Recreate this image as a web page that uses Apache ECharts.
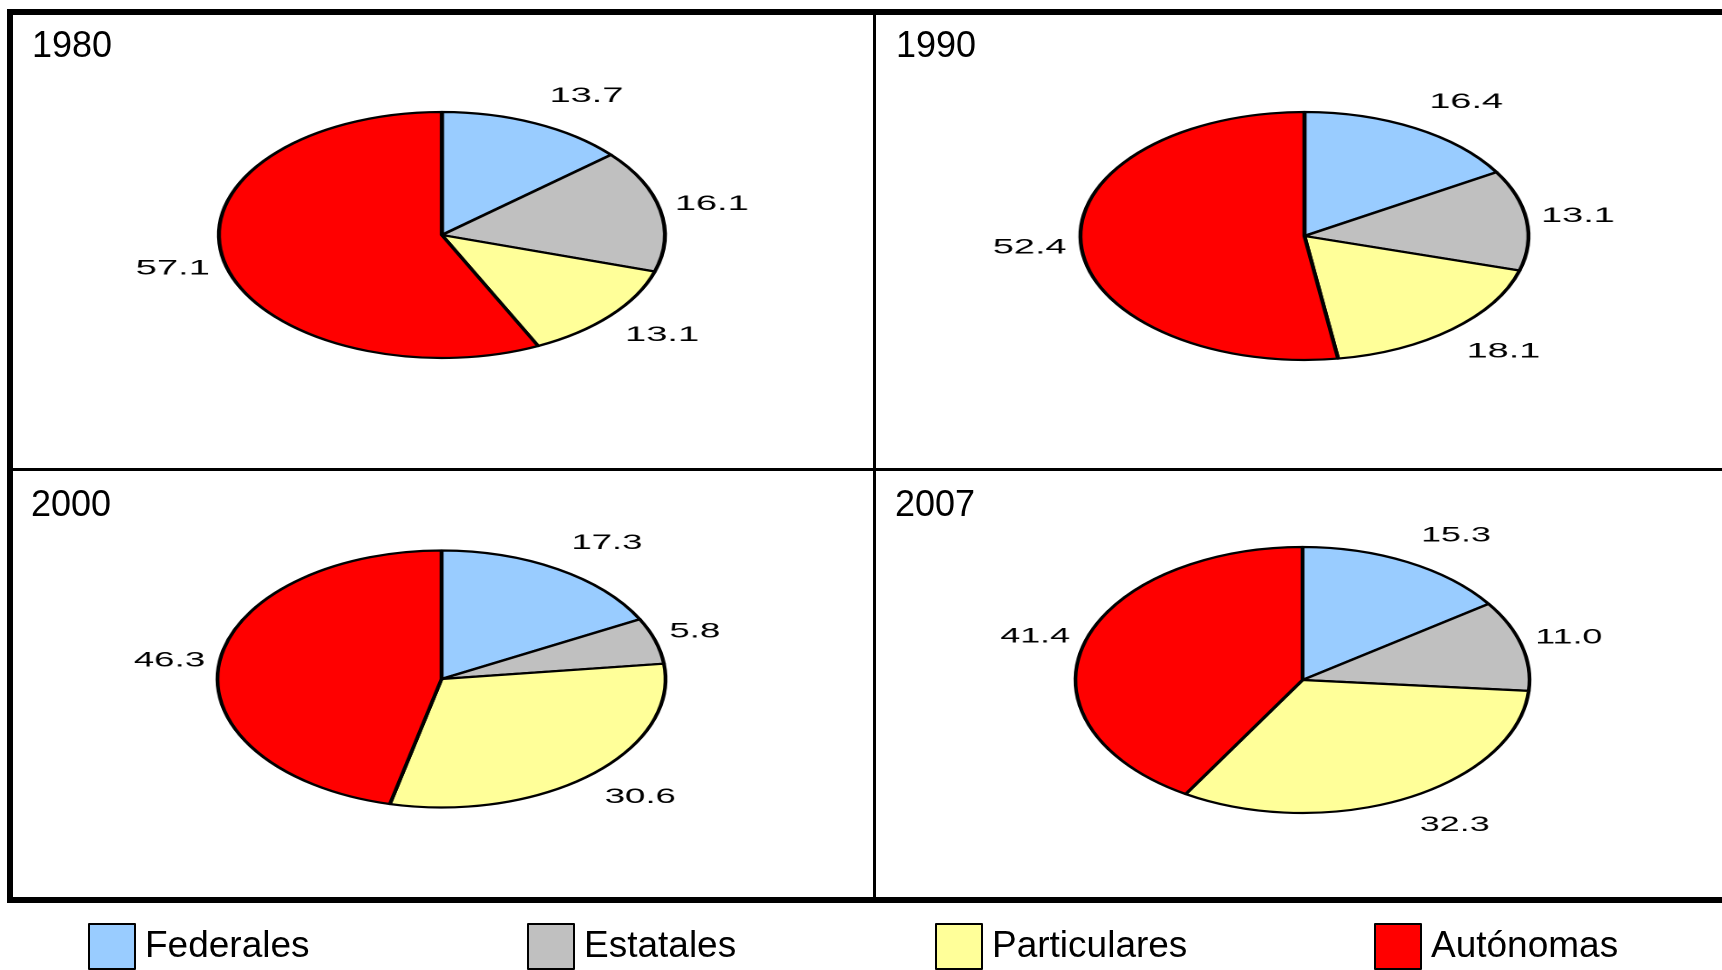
<!DOCTYPE html>
<html lang="es">
<head>
<meta charset="UTF-8">
<title>Matrícula por tipo de institución</title>
<script src="https://cdn.jsdelivr.net/npm/echarts@6.0.0/dist/echarts.min.js"></script>
<style>
    body { margin: 0; background: #fff; }
    #main { position: absolute; left: 0; top: 0; width: 1722px; height: 970px; }
    .pie { position: absolute; transform-origin: 0 0; }
</style>
</head>
<body>
<div id="main"></div>

<script>
const categories = ['Federales', 'Estatales', 'Particulares', 'Autónomas'];
const years = ['1980', '1990', '2000', '2007'];
const v1980 = [13.7, 16.1, 13.1, 57.1];
const v1990 = [16.4, 13.1, 18.1, 52.4];
const v2000 = [17.3, 5.8, 30.6, 46.3];
const v2007 = [15.3, 11.0, 32.3, 41.4];
const values = [v1980, v1990, v2000, v2007];

const colors = ['#99ccff', '#c0c0c0', '#ffff99', '#ff0000'];
const font = '"Liberation Sans", Arial, sans-serif';

// layout of each panel: pie centre and the two radii of the (stretched) pie
const pieBoxes = [
    { cx: 442, cy: 235, rx: 223, ry: 123 },
    { cx: 1304, cy: 235.5, rx: 224, ry: 124 },
    { cx: 442, cy: 679, rx: 224, ry: 128.5 },
    { cx: 1302, cy: 680, rx: 227, ry: 133 }
];
const titlePos = [[32, 29], [896, 29], [31, 488], [895, 488]];
const legendX = [88, 527, 935, 1374];

// frame, titles and legend
const main = echarts.init(document.getElementById('main'));
main.setOption({
    backgroundColor: '#fff',
    animation: false,
    title: years.map((y, i) => ({
        text: y,
        left: titlePos[i][0],
        top: titlePos[i][1],
        padding: 0,
        textStyle: { fontSize: 36, fontWeight: 'normal', fontFamily: font, color: '#000' }
    })),
    legend: categories.map((c, i) => ({
        data: [c],
        left: legendX[i],
        top: 923,
        padding: 0,
        icon: 'rect',
        itemWidth: 46,
        itemHeight: 45,
        selectedMode: false,
        itemStyle: { borderColor: '#000', borderWidth: 2 },
        textStyle: { fontSize: 37, fontFamily: font, color: '#000', padding: [0, 0, 0, 5] }
    })),
    // empty series only so the legends have something to point at
    series: categories.map((c, i) => ({
        type: 'pie',
        name: c,
        data: [],
        showEmptyCircle: false,
        itemStyle: { color: colors[i] }
    })),
    graphic: [
        { type: 'rect', shape: { x: 7, y: 9, width: 1715, height: 6 }, style: { fill: '#000' } },
        { type: 'rect', shape: { x: 7, y: 9, width: 6, height: 894 }, style: { fill: '#000' } },
        { type: 'rect', shape: { x: 7, y: 897, width: 1715, height: 6 }, style: { fill: '#000' } },
        { type: 'rect', shape: { x: 873, y: 12, width: 3, height: 888 }, style: { fill: '#000' } },
        { type: 'rect', shape: { x: 10, y: 468, width: 1712, height: 3 }, style: { fill: '#000' } }
    ]
});

// the pies are drawn round and stretched sideways, as in the original
const W0 = 440, H0 = 400;
values.forEach((vals, k) => {
    const b = pieBoxes[k];
    const s = b.rx / b.ry;
    const div = document.createElement('div');
    div.className = 'pie';
    div.style.width = W0 + 'px';
    div.style.height = H0 + 'px';
    div.style.left = (b.cx - s * W0 / 2) + 'px';
    div.style.top = (b.cy - H0 / 2) + 'px';
    div.style.transform = 'scaleX(' + s + ')';
    document.body.appendChild(div);

    const chart = echarts.init(div, null, { devicePixelRatio: 2 });
    chart.setOption({
        animation: false,
        series: [{
            type: 'pie',
            silent: true,
            radius: b.ry,
            center: ['50%', '50%'],
            startAngle: 90,
            clockwise: true,
            avoidLabelOverlap: false,
            color: colors,
            itemStyle: { borderColor: '#000', borderWidth: 2.2 },
            data: categories.map((c, i) => ({ name: c, value: vals[i] })),
            label: {
                position: 'outside',
                formatter: p => p.value.toFixed(1),
                fontSize: 21,
                fontFamily: font,
                color: '#000'
            },
            labelLine: { show: true, length: 10, length2: 0, lineStyle: { opacity: 0 } },
            // label sits a fixed gap to the side of the slice edge, pushed up/down with the slice direction
            labelLayout: function (p) {
                const pts = p.labelLinePoints;
                if (!pts) return {};
                const dx0 = pts[1][0] - pts[0][0], dy0 = pts[1][1] - pts[0][1];
                const len = Math.sqrt(dx0 * dx0 + dy0 * dy0) || 1;
                const right = dx0 >= 0;
                return {
                    x: pts[0][0] + (right ? 8 : -8),
                    y: pts[0][1] + 30 * dy0 / len,
                    align: right ? 'left' : 'right',
                    verticalAlign: 'middle'
                };
            }
        }]
    });
});
</script>
</body>
</html>
